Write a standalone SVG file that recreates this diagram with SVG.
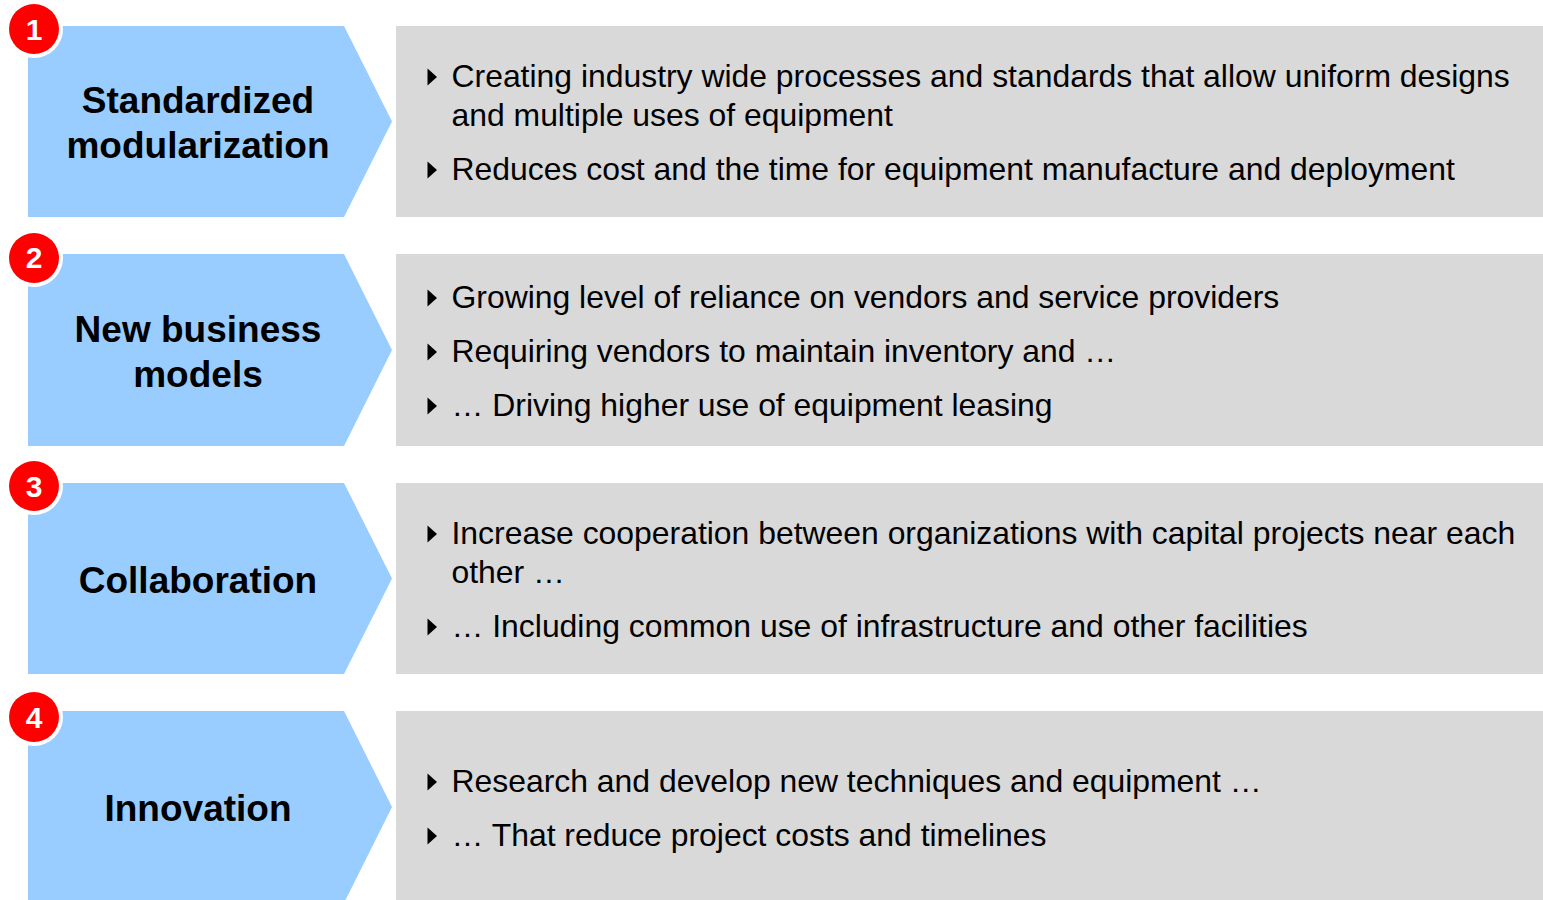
<svg xmlns="http://www.w3.org/2000/svg" width="1543" height="900" viewBox="0 0 1543 900">
  <style>
    .chev { fill: #99CCFF; }
    .panel { fill: #D9D9D9; }
    .halo { fill: #FFFFFF; }
    .badge { fill: #FF0000; }
    .num { font-family: "Liberation Sans", Arial, sans-serif; font-weight: bold; font-size: 30px; fill: #FFFFFF; text-anchor: middle; }
    .title { font-family: "Liberation Sans", Arial, sans-serif; font-weight: bold; font-size: 37px; fill: #000000; text-anchor: middle; }
    .body { font-family: "Liberation Sans", Arial, sans-serif; font-size: 31.9px; fill: #000000; }
    .tri { fill: #000000; }
  </style>
  <defs>
    <!-- bullet marker, positioned on the text baseline -->
    <path id="bullet" d="M0,-18.5 L9.5,-10 L0,-1.5 Z"/>
  </defs>
  <rect width="1543" height="900" fill="#FFFFFF"/>

  <!-- Row 1 -->
  <g id="row1">
    <polygon class="chev" points="28,26 344,26 392,121.5 344,217 28,217"/>
    <rect class="panel" x="396" y="26" width="1147" height="191"/>
    <text class="title" x="198" y="113">Standardized</text>
    <text class="title" x="198" y="158">modularization</text>
    <use href="#bullet" class="tri" x="427.5" y="87"/>
    <text class="body" x="451.5" y="87">Creating industry wide processes and standards that allow uniform designs</text>
    <text class="body" x="451.5" y="126">and multiple uses of equipment</text>
    <use href="#bullet" class="tri" x="427.5" y="180"/>
    <text class="body" x="451.5" y="180">Reduces cost and the time for equipment manufacture and deployment</text>
    <circle class="halo" cx="34" cy="29" r="29"/>
    <circle class="badge" cx="34" cy="29" r="25"/>
    <text class="num" x="34" y="40">1</text>
  </g>

  <!-- Row 2 -->
  <g id="row2">
    <polygon class="chev" points="28,254 344,254 392,350 344,446 28,446"/>
    <rect class="panel" x="396" y="254" width="1147" height="192"/>
    <text class="title" x="198" y="342">New business</text>
    <text class="title" x="198" y="387">models</text>
    <use href="#bullet" class="tri" x="427.5" y="308"/>
    <text class="body" x="451.5" y="308">Growing level of reliance on vendors and service providers</text>
    <use href="#bullet" class="tri" x="427.5" y="362"/>
    <text class="body" x="451.5" y="362">Requiring vendors to maintain inventory and …</text>
    <use href="#bullet" class="tri" x="427.5" y="416"/>
    <text class="body" x="451.5" y="416">… Driving higher use of equipment leasing</text>
    <circle class="halo" cx="34" cy="258" r="29"/>
    <circle class="badge" cx="34" cy="258" r="25"/>
    <text class="num" x="34" y="268">2</text>
  </g>

  <!-- Row 3 -->
  <g id="row3">
    <polygon class="chev" points="28,483 344,483 392,578.5 344,674 28,674"/>
    <rect class="panel" x="396" y="483" width="1147" height="191"/>
    <text class="title" x="198" y="593">Collaboration</text>
    <use href="#bullet" class="tri" x="427.5" y="544"/>
    <text class="body" x="451.5" y="544">Increase cooperation between organizations with capital projects near each</text>
    <text class="body" x="451.5" y="583">other …</text>
    <use href="#bullet" class="tri" x="427.5" y="637"/>
    <text class="body" x="451.5" y="637">… Including common use of infrastructure and other facilities</text>
    <circle class="halo" cx="34" cy="486" r="29"/>
    <circle class="badge" cx="34" cy="486" r="25"/>
    <text class="num" x="34" y="497">3</text>
  </g>

  <!-- Row 4 -->
  <g id="row4">
    <polygon class="chev" points="28,711 344,711 392,807 344,903 28,903"/>
    <rect class="panel" x="396" y="711" width="1147" height="192"/>
    <text class="title" x="198" y="821">Innovation</text>
    <use href="#bullet" class="tri" x="427.5" y="792"/>
    <text class="body" x="451.5" y="792">Research and develop new techniques and equipment …</text>
    <use href="#bullet" class="tri" x="427.5" y="846"/>
    <text class="body" x="451.5" y="846">… That reduce project costs and timelines</text>
    <circle class="halo" cx="34" cy="717" r="29"/>
    <circle class="badge" cx="34" cy="717" r="25"/>
    <text class="num" x="34" y="728">4</text>
  </g>

  <g id="connectors"></g>
</svg>
